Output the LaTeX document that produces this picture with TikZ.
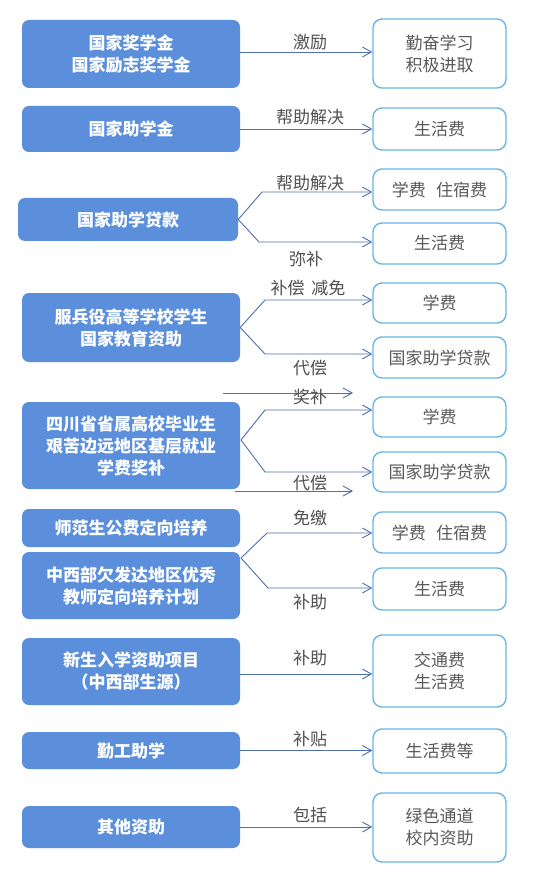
\documentclass[tikz,border=0pt]{standalone}
\usepackage{fontspec}
\newfontfamily\cjk{Noto Sans CJK SC}
\usetikzlibrary{arrows.meta}
\definecolor{lfill}{HTML}{5B8FDC}
\definecolor{rborder}{HTML}{6AB6E2}
\definecolor{conn}{HTML}{4F6FAE}
\definecolor{rtext}{HTML}{5A5A5A}
\definecolor{ltext}{HTML}{505050}
\tikzset{
  lbox/.style={draw=none,fill=lfill,rounded corners=7pt,minimum width=218pt,text=white,align=center,
    font=\cjk\bfseries\fontsize{17}{22}\selectfont,inner sep=0pt},
  rbox/.style={draw=rborder,line width=1.4pt,fill=white,rounded corners=9pt,minimum width=133pt,text=rtext,align=center,
    font=\cjk\fontsize{17}{22}\selectfont,inner sep=0pt},
  conn/.style={draw=conn,line width=0.9pt,-{Straight Barb[length=9pt,width=10pt,line width=0.9pt]}},
  lab/.style={text=ltext,font=\cjk\fontsize{17}{20}\selectfont,inner sep=0pt}
}
\begin{document}
\begin{tikzpicture}[x=1pt,y=-1pt]
\useasboundingbox[fill=white] (0,0) rectangle (534,882);
% left boxes
\node[lbox,minimum height=68pt] (L1) at (131,54) {国家奖学金\\国家励志奖学金};
\node[lbox,minimum height=46pt] (L2) at (131,129) {国家助学金};
\node[lbox,minimum height=43pt,minimum width=220pt] (L3) at (128,219.5) {国家助学贷款};
\node[lbox,minimum height=69pt] (L4) at (131,327.5) {服兵役高等学校学生\\国家教育资助};
\node[lbox,minimum height=87pt] (L5) at (131,445.5) {四川省省属高校毕业生\\艰苦边远地区基层就业\\学费奖补};
\node[lbox,minimum height=38pt] (L6) at (131,528) {师范生公费定向培养};
\node[lbox,minimum height=67pt] (L7) at (131,585.5) {中西部欠发达地区优秀\\教师定向培养计划};
\node[lbox,minimum height=67pt] (L8) at (131,671.5) {新生入学资助项目\\（中西部生源）};
\node[lbox,minimum height=37pt] (L9) at (131,750.5) {勤工助学};
\node[lbox,minimum height=42pt] (L10) at (131,827) {其他资助};
% right boxes
\node[rbox,minimum height=69pt] (R1) at (439.5,53.5) {勤奋学习\\积极进取};
\node[rbox,minimum height=42pt] (R2) at (439.5,129) {生活费};
\node[rbox,minimum height=41pt] (R3a) at (439.5,189.5) {学费\hspace{0.6em}住宿费};
\node[rbox,minimum height=41pt] (R3b) at (439.5,243.5) {生活费};
\node[rbox,minimum height=40pt] (R4a) at (439.5,303) {学费};
\node[rbox,minimum height=41pt] (R4b) at (439.5,357.5) {国家助学贷款};
\node[rbox,minimum height=40pt] (R5a) at (439.5,417) {学费};
\node[rbox,minimum height=40pt] (R5b) at (439.5,472) {国家助学贷款};
\node[rbox,minimum height=41pt] (R7a) at (439.5,532.5) {学费\hspace{0.6em}住宿费};
\node[rbox,minimum height=42pt] (R7b) at (439.5,589) {生活费};
\node[rbox,minimum height=72pt] (R8) at (439.5,671) {交通费\\生活费};
\node[rbox,minimum height=44pt] (R9) at (439.5,751) {生活费等};
\node[rbox,minimum height=69pt] (R10) at (439.5,827.5) {绿色通道\\校内资助};
% straight connectors
\coordinate (s1) at (240,52);
\draw[conn] (s1) -- (s1 -| R1.west);
\draw[conn] (L2.east) -- (L2.east -| R2.west);
\coordinate (s8) at (240,674);
\draw[conn] (s8) -- (s8 -| R8.west);
\draw[conn] (L9.east) -- (L9.east -| R9.west);
\draw[conn] (L10.east) -- (L10.east -| R10.west);
% branching connectors
\coordinate (b3u) at (262,192); \coordinate (b3d) at (259,242);
\draw[conn] (L3.east) -- (b3u) -- (b3u -| R3a.west);
\draw[conn] (L3.east) -- (b3d) -- (b3d -| R3b.west);
\coordinate (b4u) at (265,300); \coordinate (b4d) at (265,354);
\draw[conn] (L4.east) -- (b4u) -- (b4u -| R4a.west);
\draw[conn] (L4.east) -- (b4d) -- (b4d -| R4b.west);
\coordinate (o5) at (241,440);
\coordinate (b5u) at (265,410); \coordinate (b5d) at (265,472);
\draw[conn] (o5) -- (b5u) -- (b5u -| R5a.west);
\draw[conn] (o5) -- (b5d) -- (b5d -| R5b.west);
\coordinate (o7) at (241,558);
\coordinate (b7u) at (267,533); \coordinate (b7d) at (268,588);
\draw[conn] (o7) -- (b7u) -- (b7u -| R7a.west);
\draw[conn] (o7) -- (b7d) -- (b7d -| R7b.west);
% stray arrows
\coordinate (t1a) at (223,393); \coordinate (t1b) at (353,393);
\draw[conn] (t1a) -- (t1b);
\coordinate (t2a) at (235,491); \coordinate (t2b) at (353,491);
\draw[conn] (t2a) -- (t2b);
% labels
\node[lab] (a1) at (310,42) {激励};
\node[lab] (a2) at (310,117) {帮助解决};
\node[lab] (a3) at (310,183) {帮助解决};
\node[lab] (a4) at (306,259) {弥补};
\node[lab] (a5) at (308,288) {补偿\hspace{0.4em}减免};
\node[lab] (a6) at (310,368) {代偿};
\node[lab] (a7) at (310,397) {奖补};
\node[lab] (a8) at (310,483) {代偿};
\node[lab] (a9) at (310,518) {免缴};
\node[lab] (a10) at (310,602) {补助};
\node[lab] (a11) at (310,658) {补助};
\node[lab] (a12) at (310,739) {补贴};
\node[lab] (a13) at (310,815) {包括};
\end{tikzpicture}
\end{document}
